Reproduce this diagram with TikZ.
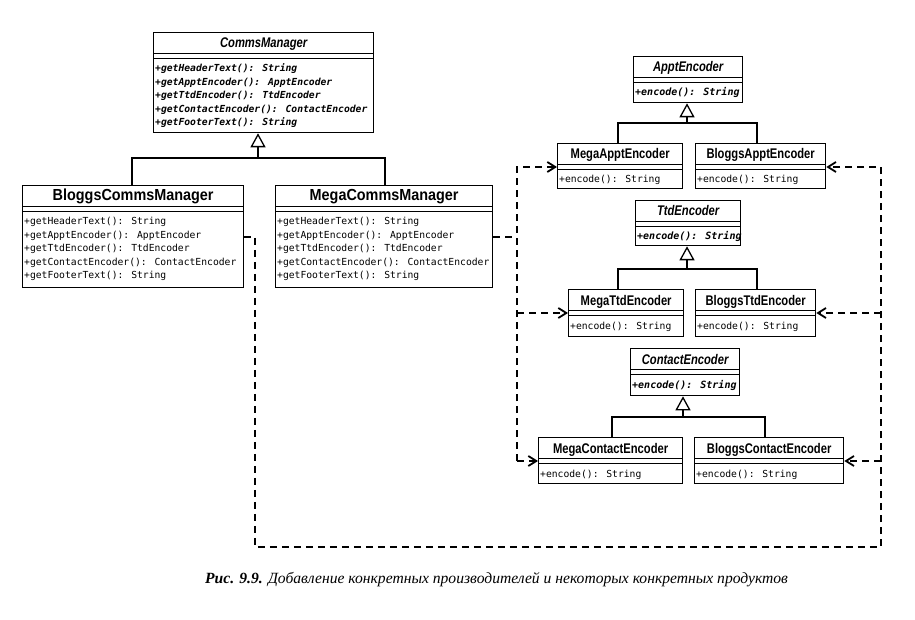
\documentclass[tikz,border=0pt]{standalone}
\usepackage{fontspec}
\usetikzlibrary{arrows.meta,calc}
\newfontfamily\ttlA[FakeStretch=0.9]{Liberation Sans}
\newfontfamily\ttlB[FakeStretch=0.8]{Liberation Sans}
\newfontfamily\monoF{DejaVu Sans Mono}
\newfontfamily\capF{Liberation Serif}
\newcommand\fCommsT{\ttlA\bfseries\fontsize{16}{18}\selectfont}
\newcommand\fEncT{\ttlB\bfseries\fontsize{14}{16}\selectfont}
\newcommand\fAbsT{\ttlB\bfseries\itshape\fontsize{14}{16}\selectfont}
\newcommand\fMeth{\monoF\fontsize{9.7}{12}\selectfont}
\newcommand\fAbsM{\monoF\bfseries\itshape\fontsize{9.7}{12}\selectfont}
\newcommand\fAbsEM{\monoF\bfseries\itshape\fontsize{10}{12}\selectfont}
\tikzset{
  clsbox/.style={draw, line width=1.3pt, inner sep=0pt, fill=white},
  clsline/.style={line width=1.3pt},
  gen/.style={line width=1.3pt, -{Triangle[open, length=14pt, width=15pt, line width=1.3pt]}},
  dep/.style={line width=1.8pt, dash pattern=on 7pt off 5pt},
  deparr/.style={dep, -{Straight Barb[length=8pt, width=10pt, line width=1.8pt]}}
}
% #1 name #2 x #3 y #4 w #5 h #6 title font #7 title #8 method font #9 methods
\newcommand\umlclass[9]{%
  \node[clsbox, minimum width=#4pt, minimum height=#5pt, anchor=north west] (#1) at (#2,#3) {};
  \draw[clsline] ($(#1.north west)+(0,21.5)$) -- ($(#1.north east)+(0,21.5)$);
  \draw[clsline] ($(#1.north west)+(0,26.5)$) -- ($(#1.north east)+(0,26.5)$);
  \node[anchor=base, inner sep=0pt, font={#6}] (#1-title) at ($(#1.north)+(0,16)$) {#7};
  \foreach \m [count=\i from 0] in {#9} {%
    \node[anchor=base west, inner sep=0pt, font={#8}] (#1-m\i) at ($(#1.north west)+(2,40+13.5*\i)$) {\m};
  }%
}
\begin{document}
\begin{tikzpicture}[x=1pt, y=-1pt]
\fill[white] (0,0) rectangle (915,620);
\useasboundingbox (0,0) rectangle (915,620);

% managers
\umlclass{cm}{153}{32}{220}{100}{\fAbsT}{CommsManager}{\fAbsM}{+getHeaderText(): String,+getApptEncoder(): ApptEncoder,+getTtdEncoder(): TtdEncoder,+getContactEncoder(): ContactEncoder,+getFooterText(): String}
\umlclass{bcm}{22}{185}{221}{102}{\fCommsT}{BloggsCommsManager}{\fMeth}{+getHeaderText(): String,+getApptEncoder(): ApptEncoder,+getTtdEncoder(): TtdEncoder,+getContactEncoder(): ContactEncoder,+getFooterText(): String}
\umlclass{mcm}{275}{185}{217}{102}{\fCommsT}{MegaCommsManager}{\fMeth}{+getHeaderText(): String,+getApptEncoder(): ApptEncoder,+getTtdEncoder(): TtdEncoder,+getContactEncoder(): ContactEncoder,+getFooterText(): String}

% encoders
\umlclass{ae}{633}{56}{109}{46}{\fAbsT}{ApptEncoder}{\fAbsEM}{+encode(): String}
\umlclass{mae}{557}{143}{125}{45}{\fEncT}{MegaApptEncoder}{\fMeth}{+encode(): String}
\umlclass{bae}{695}{143}{130}{45}{\fEncT}{BloggsApptEncoder}{\fMeth}{+encode(): String}

\umlclass{te}{635}{200}{105}{45}{\fAbsT}{TtdEncoder}{\fAbsEM}{+encode(): String}
\umlclass{mte}{568}{289}{115}{47}{\fEncT}{MegaTtdEncoder}{\fMeth}{+encode(): String}
\umlclass{bte}{695}{289}{120}{47}{\fEncT}{BloggsTtdEncoder}{\fMeth}{+encode(): String}

\umlclass{ce}{630}{348}{109}{47}{\fAbsT}{ContactEncoder}{\fAbsEM}{+encode(): String}
\umlclass{mce}{538}{437}{144}{46}{\fEncT}{MegaContactEncoder}{\fMeth}{+encode(): String}
\umlclass{bce}{694}{437}{149}{46}{\fEncT}{BloggsContactEncoder}{\fMeth}{+encode(): String}

% generalisation: managers
\coordinate (cmj) at (258,158);
\coordinate (cmjl) at (132,158);
\coordinate (cmjr) at (385,158);
\draw[clsline] (cmjl |- bcm.north) -- (cmjl) -- (cmjr) -- (cmjr |- mcm.north);
\draw[gen] (cmj) -- (cmj |- cm.south);

% generalisation: encoders
\coordinate (aej) at (687,123);
\coordinate (aejl) at (618,123);
\coordinate (aejr) at (757,123);
\draw[clsline] (aejl |- mae.north) -- (aejl) -- (aejr) -- (aejr |- bae.north);
\draw[gen] (aej) -- (aej |- ae.south);

\coordinate (tej) at (687,269);
\coordinate (tejl) at (618,269);
\coordinate (tejr) at (757,269);
\draw[clsline] (tejl |- mte.north) -- (tejl) -- (tejr) -- (tejr |- bte.north);
\draw[gen] (tej) -- (tej |- te.south);

\coordinate (cej) at (683,417);
\coordinate (cejl) at (612,417);
\coordinate (cejr) at (765,417);
\draw[clsline] (cejl |- mce.north) -- (cejl) -- (cejr) -- (cejr |- bce.north);
\draw[gen] (cej) -- (cej |- ce.south);

% dependency anchors
\coordinate (mae-a) at ($(mae.north west)+(0,24)$);
\coordinate (mte-a) at ($(mte.north west)+(0,24)$);
\coordinate (mce-a) at ($(mce.north west)+(0,24)$);
\coordinate (bae-a) at ($(bae.north east)+(0,24)$);
\coordinate (bte-a) at ($(bte.north east)+(0,24)$);
\coordinate (bce-a) at ($(bce.north east)+(0,24)$);

% Mega dependencies
\coordinate (mv) at (517,0);
\draw[dep] (mcm.east) -- (mcm.east -| mv);
\draw[deparr] (mv |- mce-a) -- (mv |- mae-a) -- (mae-a);
\draw[deparr] (mv |- mte-a) -- (mte-a);
\draw[deparr] (mv |- mce-a) -- (mce-a);

% Bloggs dependencies
\coordinate (bv) at (255,0);
\coordinate (rv) at (881,0);
\coordinate (bot) at (0,547);
\draw[deparr] (bcm.east) -| (bv |- bot) -| (rv |- bae-a) -- (bae-a);
\draw[deparr] (rv |- bte-a) -- (bte-a);
\draw[deparr] (rv |- bce-a) -- (bce-a);

% caption
\node[anchor=base west, inner sep=0pt, font=\capF\itshape\fontsize{15.6}{18}\selectfont] (cap) at (205,583) {\textbf{Рис. 9.9.} Добавление конкретных производителей и некоторых конкретных продуктов};
\end{tikzpicture}
\end{document}
